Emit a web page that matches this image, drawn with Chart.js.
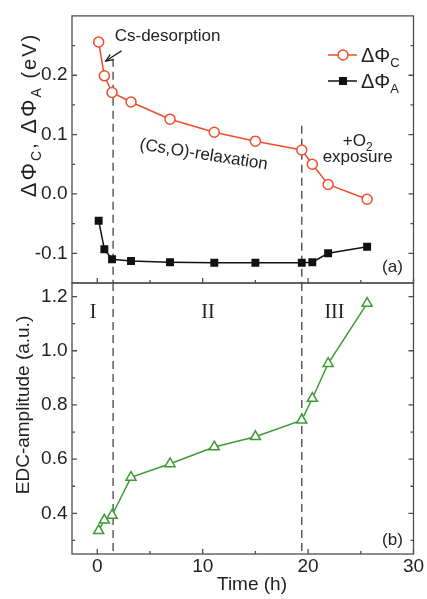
<!DOCTYPE html>
<html>
<head>
<meta charset="utf-8">
<script src="https://cdn.jsdelivr.net/npm/chart.js@4.4.1/dist/chart.umd.min.js"></script>
<style>
  html, body { margin: 0; padding: 0; background: #fff; }
  #wrap { position: relative; width: 427px; height: 599px; }
  canvas { position: absolute; left: 0; top: 0; }
</style>
</head>
<body>
<div id="wrap">
  <canvas id="chartTop" width="427" height="599"></canvas>
  <canvas id="chartBottom" width="427" height="599"></canvas>
</div>
<script>
// values
const timeH  = [0.13, 0.67, 1.4, 3.2, 6.9, 11.1, 15.0, 19.4, 20.4, 21.9, 25.6];
const dPhiC  = [0.256, 0.199, 0.171, 0.155, 0.126, 0.104, 0.089, 0.074, 0.050, 0.016, -0.009];
const dPhiA  = [-0.045, -0.093, -0.110, -0.113, -0.115, -0.116, -0.116, -0.116, -0.115, -0.100, -0.089];
const edcAmp = [0.336, 0.375, 0.393, 0.533, 0.583, 0.645, 0.683, 0.744, 0.824, 0.953, 1.175];

const xTicks = [0, 10, 20, 30];
const topYTicks = [-0.1, 0.0, 0.1, 0.2];
const bottomYTicks = [0.4, 0.6, 0.8, 1.0, 1.2];
const stageBounds = [1.5, 19.4];   // dashed lines (h)

const FONT = '"Liberation Sans", Arial, sans-serif';
const SERIF = '"Liberation Serif", "Times New Roman", serif';
const frameColor = '#4d4d4d';
const red = '#f04e2a';
const green = '#3d9a35';

function pts(ys) { return timeH.map((t, i) => ({ x: t, y: ys[i] })); }

function xScale(showLabels, h) {
  return {
    type: 'linear', min: -2.4, max: 30,
    afterFit: s => { s.height = h; },
    afterBuildTicks: s => { s.ticks = xTicks.map(v => ({ value: v })); },
    grid: { display: false, drawTicks: false },
    border: { display: false },
    ticks: {
      display: showLabels, padding: 1, autoSkip: false, maxRotation: 0,
      color: '#222', font: { family: FONT, size: 19 },
      callback: v => String(v)
    }
  };
}

function yScale(min, max, tickVals) {
  return {
    type: 'linear', min: min, max: max,
    afterFit: s => { s.width = 72; },
    afterBuildTicks: s => { s.ticks = tickVals.map(v => ({ value: v })); },
    grid: { display: false, drawTicks: false },
    border: { display: false },
    ticks: {
      padding: 4.5, autoSkip: false, color: '#222', font: { family: FONT, size: 19 },
      callback: v => v.toFixed(1)
    }
  };
}

// text with subscripts: parts = [[text, size, dy], ...], y is baseline, gap = extra spacing per char
function richText(ctx, parts, x, y, align, gap) {
  gap = gap || 0;
  const chars = [];
  parts.forEach(p => { for (const c of p[0]) chars.push([c, p[1], p[2]]); });
  let w = 0;
  chars.forEach((c, i) => {
    ctx.font = c[1] + 'px ' + FONT;
    w += ctx.measureText(c[0]).width + (i < chars.length - 1 ? gap : 0);
  });
  let cx = align === 'center' ? x - w / 2 : (align === 'right' ? x - w : x);
  ctx.textAlign = 'left';
  ctx.textBaseline = 'alphabetic';
  chars.forEach(c => {
    ctx.font = c[1] + 'px ' + FONT;
    ctx.fillText(c[0], cx, y + c[2]);
    cx += ctx.measureText(c[0]).width + gap;
  });
}

function minorOf(majors, step, min, max) {
  const out = [];
  majors.forEach(m => {
    [m - step / 2, m + step / 2].forEach(v => {
      if (v > min + 1e-6 && v < max - 1e-6 && !out.some(o => Math.abs(o - v) < 1e-6)) out.push(v);
    });
  });
  return out;
}

function drawFrame(chart, yStep) {
  const { ctx, chartArea: a, scales: { x, y } } = chart;
  ctx.save();
  ctx.strokeStyle = frameColor;
  ctx.lineWidth = 1.3;
  ctx.strokeRect(a.left, a.top, a.right - a.left, a.bottom - a.top);
  ctx.beginPath();
  const xMaj = x.ticks.map(t => t.value);
  const yMaj = y.ticks.map(t => t.value);
  const tick = (vals, len, horiz) => {
    vals.forEach(v => {
      if (horiz) {
        const px = x.getPixelForValue(v);
        ctx.moveTo(px, a.bottom); ctx.lineTo(px, a.bottom - len);
      } else {
        const py = y.getPixelForValue(v);
        ctx.moveTo(a.left, py); ctx.lineTo(a.left + len, py);
        ctx.moveTo(a.right, py); ctx.lineTo(a.right - len, py);
      }
    });
  };
  tick(xMaj, 5, true);
  tick(minorOf(xMaj, 10, x.min, x.max), 3, true);
  tick(yMaj, 5, false);
  tick(minorOf(yMaj, yStep, y.min, y.max), 3, false);
  ctx.stroke();
  ctx.restore();
}

function drawDashed(chart, starts) {
  const { ctx, chartArea: a, scales: { x, y } } = chart;
  ctx.save();
  ctx.strokeStyle = '#444';
  ctx.lineWidth = 1.3;
  ctx.setLineDash([8, 5]);
  stageBounds.forEach((t, i) => {
    const px = x.getPixelForValue(t);
    const top = starts ? y.getPixelForValue(starts[i]) : a.top;
    ctx.beginPath();
    ctx.moveTo(px, top);
    ctx.lineTo(px, a.bottom);
    ctx.stroke();
  });
  ctx.restore();
}

const topPlugin = {
  id: 'topPanel',
  beforeDatasetsDraw(chart) { drawDashed(chart, [0.228, 0.115]); },
  afterDraw(chart) {
    const { ctx, scales: { x, y } } = chart;
    drawFrame(chart, 0.1);
    ctx.save();
    ctx.fillStyle = '#222';

    // Cs-desorption + arrow
    ctx.font = '17px ' + FONT;
    ctx.textAlign = 'left';
    ctx.textBaseline = 'middle';
    ctx.fillText('Cs-desorption', x.getPixelForValue(1.65), y.getPixelForValue(0.266));
    const x1 = x.getPixelForValue(2.3), y1 = y.getPixelForValue(0.241);
    const x2 = x.getPixelForValue(0.8), y2 = y.getPixelForValue(0.224);
    ctx.strokeStyle = '#222';
    ctx.lineWidth = 1.3;
    ctx.beginPath(); ctx.moveTo(x1, y1); ctx.lineTo(x2, y2); ctx.stroke();
    const ang = Math.atan2(y2 - y1, x2 - x1);
    ctx.beginPath();
    ctx.moveTo(x2 - 8 * Math.cos(ang - 0.4), y2 - 8 * Math.sin(ang - 0.4));
    ctx.lineTo(x2, y2);
    ctx.lineTo(x2 - 8 * Math.cos(ang + 0.4), y2 - 8 * Math.sin(ang + 0.4));
    ctx.stroke();

    // (Cs,O)-relaxation, slanted
    ctx.save();
    ctx.translate(x.getPixelForValue(10.1), y.getPixelForValue(0.066));
    ctx.rotate(9 * Math.PI / 180);
    ctx.textAlign = 'center';
    ctx.fillText('(Cs,O)-relaxation', 0, 0);
    ctx.restore();

    // +O2 exposure
    richText(ctx, [['+O', 17, 0], ['2', 12, 5]], x.getPixelForValue(24.7), 146, 'center');
    ctx.font = '17px ' + FONT;
    ctx.textAlign = 'center';
    ctx.textBaseline = 'alphabetic';
    ctx.fillText('exposure', x.getPixelForValue(24.7), 162);

    // panel label
    ctx.fillText('(a)', x.getPixelForValue(28.0), 272);

    // legend
    ctx.lineWidth = 1.5;
    ctx.strokeStyle = red;
    ctx.beginPath(); ctx.moveTo(328, 55); ctx.lineTo(357, 55); ctx.stroke();
    ctx.fillStyle = '#fff';
    ctx.beginPath(); ctx.arc(343, 55, 5, 0, Math.PI * 2); ctx.fill(); ctx.stroke();
    ctx.strokeStyle = '#111';
    ctx.beginPath(); ctx.moveTo(328, 81); ctx.lineTo(357, 81); ctx.stroke();
    ctx.fillStyle = '#111';
    ctx.fillRect(339, 77, 8, 8);
    ctx.fillStyle = '#222';
    richText(ctx, [['\u0394\u03A6', 20, 0], ['C', 13, 5]], 361, 62, 'left');
    richText(ctx, [['\u0394\u03A6', 20, 0], ['A', 13, 5]], 361, 88, 'left');

    // y title
    ctx.save();
    ctx.translate(29, 116);
    ctx.rotate(-Math.PI / 2);
    richText(ctx, [['\u0394\u03A6', 22, 0], ['C', 14, 5], [', ', 20, 0], ['\u0394\u03A6', 22, 0], ['A', 14, 5], [' (eV)', 20, 0]], 0, 7, 'center', 2);
    ctx.restore();
    ctx.restore();
  }
};

const bottomPlugin = {
  id: 'bottomPanel',
  beforeDatasetsDraw(chart) { drawDashed(chart, null); },
  afterDraw(chart) {
    const { ctx, scales: { x, y } } = chart;
    drawFrame(chart, 0.2);
    ctx.save();
    ctx.fillStyle = '#222';
    ctx.textAlign = 'center';
    ctx.textBaseline = 'middle';
    ctx.font = '20px ' + SERIF;
    ctx.fillText('I', x.getPixelForValue(-0.4), y.getPixelForValue(1.14));
    ctx.fillText('II', x.getPixelForValue(10.5), y.getPixelForValue(1.14));
    ctx.fillText('III', x.getPixelForValue(22.5), y.getPixelForValue(1.14));
    ctx.font = '17px ' + FONT;
    ctx.fillText('(b)', x.getPixelForValue(28.0), y.getPixelForValue(0.30));

    ctx.font = '19px ' + FONT;
    ctx.fillText('Time (h)', 252, 585);
    ctx.save();
    ctx.translate(24, 405);
    ctx.rotate(-Math.PI / 2);
    ctx.fillText('EDC-amplitude (a.u.)', 0, 0);
    ctx.restore();
    ctx.restore();
  }
};

const common = {
  responsive: false,
  animation: false,
  devicePixelRatio: 1,
  plugins: { legend: { display: false }, tooltip: { enabled: false } }
};

new Chart(document.getElementById('chartTop'), {
  type: 'line',
  data: {
    datasets: [
      {
        label: 'dPhiC', data: pts(dPhiC),
        borderColor: red, backgroundColor: '#fff', borderWidth: 1.5,
        pointStyle: 'circle', pointRadius: 5, pointBorderWidth: 1.5
      },
      {
        label: 'dPhiA', data: pts(dPhiA),
        borderColor: '#111', backgroundColor: '#111', borderWidth: 1.5,
        pointStyle: 'rect', pointRadius: 5.6, pointBorderWidth: 0
      }
    ]
  },
  options: Object.assign({}, common, {
    layout: { padding: { left: 0, right: 13.5, top: 12, bottom: 316 } },
    scales: { x: xScale(false, 0), y: yScale(-0.15, 0.30, topYTicks) }
  }),
  plugins: [topPlugin]
});

new Chart(document.getElementById('chartBottom'), {
  type: 'line',
  data: {
    datasets: [
      {
        label: 'EDC', data: pts(edcAmp),
        borderColor: green, backgroundColor: '#fff', borderWidth: 1.5,
        pointStyle: 'triangle', pointRadius: 5.8, pointBorderWidth: 1.5
      }
    ]
  },
  options: Object.assign({}, common, {
    layout: { padding: { left: 0, right: 13.5, top: 283, bottom: 0 } },
    scales: { x: xScale(true, 45), y: yScale(0.25, 1.25, bottomYTicks) }
  }),
  plugins: [bottomPlugin]
});
</script>
</body>
</html>
